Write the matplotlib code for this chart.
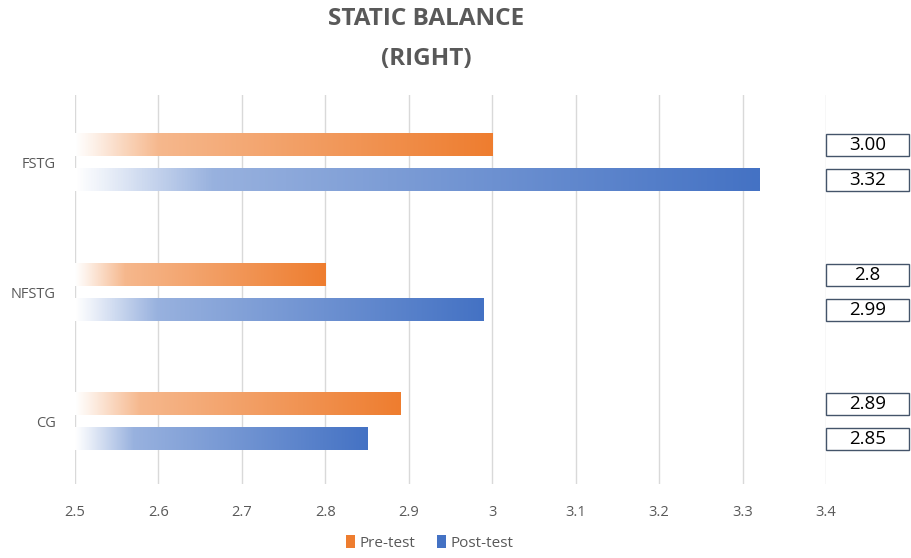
import matplotlib
matplotlib.use("Agg")
import matplotlib.pyplot as plt
import numpy as np
from matplotlib.colors import LinearSegmentedColormap, to_rgb
from matplotlib.patches import Rectangle, Patch

plt.rcParams['font.family'] = ['Open Sans', 'DejaVu Sans']

# Data
groups = ["FSTG", "NFSTG", "CG"]
pre_test = [3.00, 2.80, 2.89]
post_test = [3.32, 2.99, 2.85]
pre_labels = ["3.00", "2.8", "2.89"]
post_labels = ["3.32", "2.99", "2.85"]
series_names = ["Pre-test", "Post-test"]
x_ticks = [2.5, 2.6, 2.7, 2.8, 2.9, 3.0, 3.1, 3.2, 3.3, 3.4]
x_tick_labels = ["2.5", "2.6", "2.7", "2.8", "2.9", "3", "3.1", "3.2", "3.3", "3.4"]

ORANGE = "#EE7D2F"
BLUE = "#4472C4"
TEXT_GRAY = "#595959"
GRID = "#D9D9D9"


def fade_cmap(color):
    c = np.array(to_rgb(color))
    w = np.ones(3)
    mid = 0.55 * c + 0.45 * w
    return LinearSegmentedColormap.from_list(
        "fade", [(0.0, w), (0.04, 0.9 * w + 0.1 * c), (0.2, mid), (1.0, c)])


fig = plt.figure(figsize=(9.12, 5.58), dpi=100)
ax = fig.add_axes([0.0822, 0.1326, 0.9057 - 0.0822, 0.8297 - 0.1326])

x0, x1 = 2.5, 3.4
y_top, y_bottom = -0.52, 2.48

bar_h = 0.17
offset = 0.135
grad = np.linspace(0, 1, 512).reshape(1, -1)

for i, g in enumerate(groups):
    for val, lab, color, dy in ((pre_test[i], pre_labels[i], ORANGE, -offset),
                                (post_test[i], post_labels[i], BLUE, offset)):
        yc = i + dy
        ax.imshow(grad, cmap=fade_cmap(color), aspect="auto",
                  extent=[x0, val, yc + bar_h / 2, yc - bar_h / 2],
                  interpolation="bilinear", zorder=2)
        # value box to the right of the plot area
        ax.add_patch(Rectangle((3.4, yc - bar_h / 2), 0.099, bar_h,
                               facecolor="white", edgecolor="#44546A",
                               linewidth=1.0, clip_on=False, zorder=3))
        ax.text(3.4 + 0.0495, yc, lab, ha="center", va="center",
                fontsize=13.5, color="black", clip_on=False, zorder=4)

ax.set_xlim(x0, x1)
ax.set_ylim(y_bottom, y_top)
ax.set_aspect("auto")

ax.set_xticks(x_ticks)
ax.set_xticklabels(x_tick_labels)
ax.set_yticks(range(len(groups)))
ax.set_yticklabels(groups)
ax.tick_params(axis="both", length=0, colors=TEXT_GRAY, labelsize=10.5)
ax.tick_params(axis="x", pad=15)
ax.tick_params(axis="y", pad=14)
for lbl in ax.get_xticklabels() + ax.get_yticklabels():
    lbl.set_color(TEXT_GRAY)

ax.grid(axis="x", color=GRID, linewidth=1.0, zorder=0)
ax.set_axisbelow(True)
for s in ax.spines.values():
    s.set_visible(False)

fig.text(0.467, 0.966, "STATIC BALANCE", ha="center", va="center",
         fontsize=17.5, fontweight="bold", color=TEXT_GRAY)
fig.text(0.467, 0.894, "(RIGHT)", ha="center", va="center",
         fontsize=17.5, fontweight="bold", color=TEXT_GRAY)

handles = [Patch(facecolor=ORANGE), Patch(facecolor=BLUE)]
fig.legend(handles, series_names, loc="center", bbox_to_anchor=(0.471, 0.027),
           ncol=2, frameon=False, fontsize=11, handlelength=0.6,
           handleheight=0.9, handletextpad=0.3, columnspacing=1.4,
           labelcolor=TEXT_GRAY)

fig.savefig("out.png", dpi=100)
